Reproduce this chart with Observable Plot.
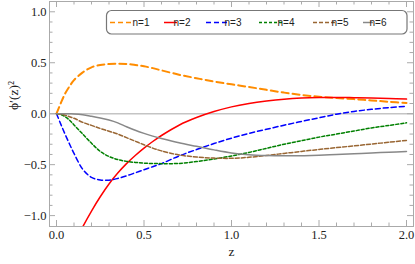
<!DOCTYPE html>
<html><head><meta charset="utf-8">
<script src="https://cdn.jsdelivr.net/npm/d3@7"></script>
<script src="https://cdn.jsdelivr.net/npm/@observablehq/plot@0.6"></script>
<style>body{margin:0;background:#fff}</style>
</head><body><div id="chart"></div>
<script>
// ---- data ----
const zGrid = [0, 0.025, 0.05, 0.075, 0.1, 0.15, 0.2, 0.25, 0.3, 0.35, 0.4, 0.45, 0.5, 0.55, 0.6, 0.7, 0.8, 0.9, 1.0, 1.1, 1.2, 1.3, 1.4, 1.5, 1.6, 1.7, 1.8, 1.9, 2.0];
const n1 = [0, 0.105, 0.2, 0.27, 0.33, 0.405, 0.455, 0.478, 0.487, 0.49, 0.488, 0.478, 0.465, 0.447, 0.425, 0.383, 0.348, 0.315, 0.288, 0.262, 0.234, 0.207, 0.184, 0.167, 0.154, 0.143, 0.13, 0.117, 0.105];
const n2 = [null, null, null, null, -1.28, -1.11, -0.955, -0.815, -0.69, -0.583, -0.49, -0.41, -0.338, -0.273, -0.214, -0.113, -0.038, 0.021, 0.067, 0.1, 0.124, 0.142, 0.153, 0.158, 0.159, 0.157, 0.153, 0.148, 0.143];
const n3 = [0, -0.105, -0.205, -0.3, -0.39, -0.545, -0.625, -0.65, -0.652, -0.635, -0.61, -0.58, -0.55, -0.52, -0.49, -0.415, -0.352, -0.293, -0.24, -0.193, -0.153, -0.113, -0.076, -0.04, -0.005, 0.022, 0.043, 0.06, 0.073];
const n4 = [0, -0.008, -0.03, -0.065, -0.11, -0.2, -0.29, -0.37, -0.42, -0.45, -0.468, -0.478, -0.485, -0.489, -0.49, -0.488, -0.47, -0.445, -0.415, -0.38, -0.34, -0.3, -0.265, -0.23, -0.2, -0.17, -0.14, -0.115, -0.09];
const n5 = [0, -0.005, -0.015, -0.03, -0.045, -0.085, -0.115, -0.145, -0.172, -0.2, -0.235, -0.27, -0.305, -0.338, -0.365, -0.405, -0.425, -0.436, -0.438, -0.428, -0.41, -0.39, -0.37, -0.351, -0.333, -0.316, -0.298, -0.28, -0.262];
const n6 = [0, 0, 0, -0.001, -0.002, -0.01, -0.025, -0.042, -0.062, -0.09, -0.128, -0.163, -0.193, -0.22, -0.243, -0.285, -0.32, -0.355, -0.385, -0.402, -0.41, -0.413, -0.412, -0.408, -0.401, -0.394, -0.386, -0.378, -0.37];
const seriesNames = ["n=1", "n=2", "n=3", "n=4", "n=5", "n=6"];
const xMajorTicks = [0, 0.5, 1, 1.5, 2];
const xMinorTicks = [0.1, 0.2, 0.3, 0.4, 0.6, 0.7, 0.8, 0.9, 1.1, 1.2, 1.3, 1.4, 1.6, 1.7, 1.8, 1.9];
const yMajorTicks = [-1, -0.5, 0, 0.5, 1];
const yMinorTicks = [-0.9, -0.8, -0.7, -0.6, -0.4, -0.3, -0.2, -0.1, 0.1, 0.2, 0.3, 0.4, 0.6, 0.7, 0.8, 0.9];
const xLabel = "z";
const yLabel = "\u03D5\u2032(z)\u00B2";

// ---- styles ----
const seriesValues = [n1, n2, n3, n4, n5, n6];
const colors = ["#ff8c00", "#ff0000", "#0000ff", "#008000", "#996633", "#888888"];
const widths = [2, 1.5, 1.5, 1.5, 1.5, 1.5];
const dashes = ["7,4", null, "5,3", "3,2", "4,2", null];

const W = 415, H = 264, mL = 49, mR = 2, mT = 1, mB = 38;
const frameW = W - mL - mR, frameH = H - mT - mB;
const frameColor = "#aaaaaa";
const serif = "Liberation Serif";

const lineMarks = seriesValues.map((vals, i) => {
  const rows = zGrid.map((z, j) => ({z, v: vals[j]}));
  return Plot.line(rows, {
    x: "z", y: "v", stroke: colors[i], strokeWidth: widths[i],
    strokeDasharray: dashes[i] || undefined, curve: "catmull-rom", clip: true
  });
});

const plot = Plot.plot({
  width: W, height: H,
  marginLeft: mL, marginRight: mR, marginTop: mT, marginBottom: mB,
  style: {fontFamily: serif, fontSize: "12.5px", color: "#222", background: "#fff"},
  x: {domain: [-0.04, 2.04], axis: null},
  y: {domain: [-1.107, 1.101], axis: null},
  marks: [
    Plot.ruleY([0], {stroke: "#c4c4c4", strokeWidth: 1.5}),
    ...lineMarks,
    Plot.frame({stroke: frameColor, strokeWidth: 1}),
    Plot.tickX(xMajorTicks, {x: d => d, stroke: frameColor, insetTop: frameH - 6}),
    Plot.tickX(xMinorTicks, {x: d => d, stroke: frameColor, insetTop: frameH - 3.5}),
    Plot.tickX(xMajorTicks, {x: d => d, stroke: frameColor, insetBottom: frameH - 6}),
    Plot.tickX(xMinorTicks, {x: d => d, stroke: frameColor, insetBottom: frameH - 3.5}),
    Plot.tickY(yMajorTicks, {y: d => d, stroke: frameColor, insetRight: frameW - 6}),
    Plot.tickY(yMinorTicks, {y: d => d, stroke: frameColor, insetRight: frameW - 3.5}),
    Plot.tickY(yMajorTicks, {y: d => d, stroke: frameColor, insetLeft: frameW - 6}),
    Plot.tickY(yMinorTicks, {y: d => d, stroke: frameColor, insetLeft: frameW - 3.5}),
    Plot.axisX(xMajorTicks, {tickSize: 0, tickPadding: 4, tickFormat: d3.format(".1f"), fill: "#222", label: null, fontFamily: serif, fontSize: 12.5}),
    Plot.axisY(yMajorTicks, {tickSize: 0, tickPadding: 3, tickFormat: d3.format(".1f"), fill: "#222", label: null, fontFamily: serif, fontSize: 12.5}),
    Plot.text([xLabel], {text: d => d, frameAnchor: "bottom", dy: 29, fontSize: 13.5, fill: "#222", fontFamily: serif}),
    Plot.text([yLabel], {text: d => d, frameAnchor: "left", rotate: -90, dx: -36, dy: -4, fontSize: 13.5, fill: "#222", fontFamily: serif})
  ]
});
document.getElementById("chart").appendChild(plot);

// ---- legend (inside the plot, top right) ----
const svg = d3.select(plot);
const lg = svg.append("g").style("font-family", "'Liberation Sans', Arial, sans-serif").style("font-size", "10px");
lg.append("rect").attr("x", 106.5).attr("y", 10.5).attr("width", 300.5).attr("height", 23.5)
  .attr("rx", 5).attr("fill", "#fff").attr("stroke", "#777").attr("stroke-width", 1.2);
const legLineX = [[110, 132], [164, 177], [206, 229], [259, 282], [313, 336], [363, 373]];
const legTextX = [141, 182, 233, 286, 340, 378];
seriesNames.forEach((name, i) => {
  lg.append("line").attr("x1", legLineX[i][0]).attr("x2", legLineX[i][1]).attr("y1", 22.5).attr("y2", 22.5)
    .attr("stroke", colors[i]).attr("stroke-width", Math.min(widths[i], 1.5))
    .attr("stroke-dasharray", i === 0 ? "5,3" : (dashes[i] || null));
  lg.append("text").attr("x", legTextX[i]).attr("y", 26).style("fill", "#222").style("font-size", "10px").text(name);
});
</script>
</body></html>
